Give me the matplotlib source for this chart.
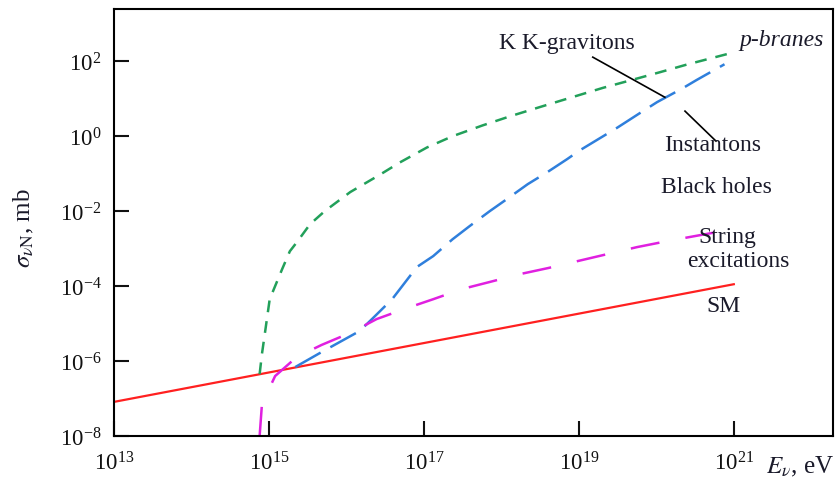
import numpy as np
import matplotlib
matplotlib.use("Agg")
import matplotlib.pyplot as plt

plt.rcParams['font.family'] = ['Liberation Serif', 'DejaVu Serif']
plt.rcParams['mathtext.fontset'] = 'stix'
plt.rcParams['lines.scale_dashes'] = False

# values given as log10(E/eV) and log10(sigma/mb)
sm_x = [13.0, 21.0]
sm_y = [-7.09, -3.95]

pbranes_x = [14.88, 14.91, 14.95, 15.01, 15.08, 15.17, 15.27, 15.36, 15.53, 15.72,
             16.05, 16.43, 16.69, 17.04, 17.37, 17.76, 18.11, 18.50, 18.88, 19.31,
             19.70, 20.05, 20.39, 20.91, 21.01]
pbranes_y = [-6.35, -5.81, -5.23, -4.35, -4.0, -3.55, -3.07, -2.83, -2.35, -2.0,
             -1.49, -1.03, -0.70, -0.30, 0.0, 0.29, 0.53, 0.78, 1.02, 1.29,
             1.51, 1.71, 1.91, 2.19, 2.26]

bh_x = [15.34, 15.68, 16.17, 16.33, 16.59, 16.91, 17.12, 17.37, 17.59, 17.85,
        18.07, 18.34, 18.60, 18.85, 19.01, 19.49, 19.79, 20.01, 20.34, 20.52, 20.88]
bh_y = [-6.16, -5.76, -5.20, -4.88, -4.35, -3.49, -3.20, -2.75, -2.40, -2.00,
        -1.68, -1.28, -0.95, -0.61, -0.38, 0.22, 0.62, 0.91, 1.28, 1.50, 1.92]

string_x = [14.88, 14.91, 15.08, 15.36, 15.68, 16.07, 16.39, 16.75, 17.12, 17.49,
            17.85, 18.24, 18.60, 18.99, 19.36, 19.75, 20.14, 20.99]
string_y = [-8.0, -7.15, -6.40, -5.89, -5.57, -5.23, -4.88, -4.61, -4.35, -4.08,
            -3.89, -3.68, -3.52, -3.33, -3.15, -2.96, -2.80, -2.48]

xticks = [13, 15, 17, 19, 21]
yticks = [-8, -6, -4, -2, 0, 2]


def p(v):
    return 10.0 ** np.asarray(v)


fig = plt.figure(figsize=(8.38, 4.85), dpi=100)
ax = fig.add_axes([0.136, 0.099, 0.858, 0.880])

ax.plot(p(sm_x), p(sm_y), color='#ff2020', lw=1.6)
ax.plot(p(pbranes_x), p(pbranes_y), color='#22a05a', lw=1.8, dashes=(8.5, 6.5))
ax.plot(p(bh_x), p(bh_y), color='#2f7fdc', lw=1.8, dashes=(21, 8))
ax.plot(p(string_x), p(string_y), color='#e020e0', lw=1.8, dashes=(21, 19))

ax.set_xscale('log')
ax.set_yscale('log')
ax.set_xlim(1e13, 10 ** 22.28)
ax.set_ylim(1e-8, 10 ** 3.39)
ax.set_xticks(p(xticks))
ax.set_yticks(p(yticks))
ax.minorticks_off()
ax.tick_params(direction='in', length=11, width=1.5, labelsize=16.5, colors='#111111')
ax.tick_params(axis='x', pad=11)
ax.tick_params(axis='y', pad=9)
for s in ax.spines.values():
    s.set_linewidth(1.5)

# annotations
tc = '#1a1a2a'
fs = 17
ax.text(p(18.85), p(2.51), 'K K-gravitons', fontsize=fs, ha='center', va='center', color=tc)
ax.text(p(21.62), p(2.59), 'p-branes', fontsize=fs, style='italic', ha='center', va='center', color=tc)
ax.text(p(20.73), p(-0.21), 'Instantons', fontsize=fs, ha='center', va='center', color=tc)
ax.text(p(20.77), p(-1.33), 'Black holes', fontsize=fs, ha='center', va='center', color=tc)
ax.text(p(20.91), p(-2.67), 'String', fontsize=fs, ha='center', va='center', color=tc)
ax.text(p(21.06), p(-3.33), 'excitations', fontsize=fs, ha='center', va='center', color=tc)
ax.text(p(20.86), p(-4.53), 'SM', fontsize=fs, ha='center', va='center', color=tc)
ax.plot(p([19.18, 20.11]), p([2.11, 1.04]), color='black', lw=1.2)
ax.plot(p([20.37, 20.77]), p([0.67, -0.13]), color='black', lw=1.2)

fig.text(0.029, 0.53, r'$\sigma_{\nu\mathrm{N}}$, mb', rotation=90, fontsize=18,
         ha='center', va='center', color=tc)
fig.text(0.955, 0.037, r'$E_\nu$, eV', fontsize=18, ha='center', va='center', color=tc)

fig.savefig('out.png', dpi=100)
